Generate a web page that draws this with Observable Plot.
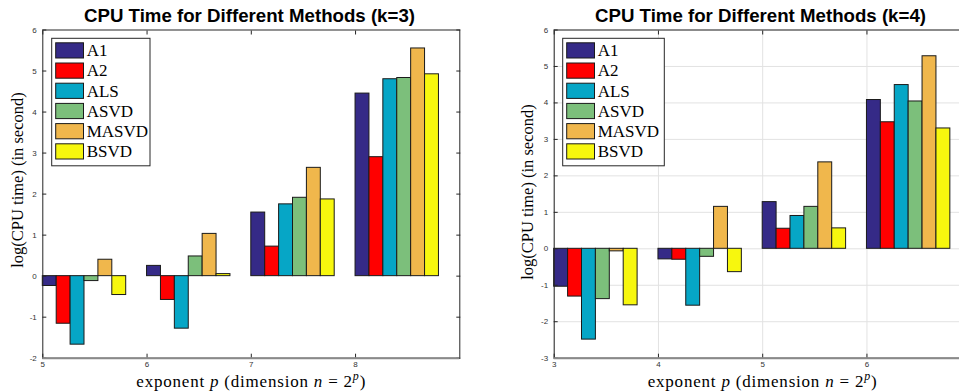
<!DOCTYPE html>
<html>
<head>
<meta charset="utf-8">
<script src="https://cdn.jsdelivr.net/npm/d3@7"></script>
<script src="https://cdn.jsdelivr.net/npm/@observablehq/plot@0.6"></script>
<style>
  html, body { margin: 0; padding: 0; background: #fff; overflow: hidden; }
  #wrap { position: relative; width: 959px; height: 392px; overflow: hidden; background: #fff; }
  #wrap > svg { position: absolute; top: 0; }
  #overlay { pointer-events: none; }
</style>
</head>
<body>
<div id="wrap"></div>
<script>
// ---------- data ----------
const methods = ["A1", "A2", "ALS", "ASVD", "MASVD", "BSVD"];
const colors  = ["#352a87", "#ff0000", "#06a6c6", "#7cbf7b", "#f0b74c", "#f7f70e"];

// k = 3
const k3Exponents = [5, 6, 7, 8];
const k3A1    = [-0.24,  0.25, 1.55, 4.45];
const k3A2    = [-1.16, -0.58, 0.72, 2.90];
const k3ALS   = [-1.67, -1.28, 1.75, 4.80];
const k3ASVD  = [-0.12,  0.48, 1.91, 4.83];
const k3MASVD = [ 0.40,  1.03, 2.64, 5.55];
const k3BSVD  = [-0.46,  0.05, 1.87, 4.92];
const k3XTicks = [5, 6, 7, 8];
const k3YTicks = [-2, -1, 0, 1, 2, 3, 4, 5, 6];

// k = 4
const k4Exponents = [3, 4, 5, 6];
const k4A1    = [-1.04, -0.29, 1.28, 4.08];
const k4A2    = [-1.31, -0.30, 0.55, 3.47];
const k4ALS   = [-2.49, -1.56, 0.90, 4.49];
const k4ASVD  = [-1.38, -0.22, 1.15, 4.04];
const k4MASVD = [-0.07,  1.15, 2.37, 5.28];
const k4BSVD  = [-1.55, -0.64, 0.56, 3.30];
const k4XTicks = [3, 4, 5, 6];
const k4YTicks = [-3, -2, -1, 0, 1, 2, 3, 4, 5, 6];

const titles = ["CPU Time for Different Methods (k=3)", "CPU Time for Different Methods (k=4)"];
const yLabelText = "log(CPU time) (in second)";

// ---------- build ----------
function tidy(exps, series) {
  const rows = [];
  series.forEach((vals, i) => vals.forEach((v, j) => rows.push({p: exps[j], i, m: methods[i], v})));
  return rows;
}

function makePanel({rows, xDomain, yDomain, xTicks, yTicks, grid, width, marginLeft, marginRight}) {
  const bw = 0.8 / methods.length;
  const fmt = d => String(d);
  const none = () => "";
  return Plot.plot({
    width, height: 392,
    marginTop: 29.5, marginBottom: 34.3, marginLeft, marginRight,
    x: {domain: xDomain},
    y: {domain: yDomain},
    color: {domain: methods, range: colors},
    style: {fontFamily: '"Liberation Sans", Arial, sans-serif', fontSize: "8px", color: "#333", background: "transparent"},
    marks: [
      grid ? Plot.gridX(xTicks, {stroke: "#e2e2e2", strokeOpacity: 1}) : null,
      grid ? Plot.gridY(yTicks, {stroke: "#e2e2e2", strokeOpacity: 1}) : null,
      Plot.rect(rows, {
        x1: d => d.p + d.i * bw,
        x2: d => d.p + (d.i + 1) * bw,
        y1: 0, y2: "v",
        fill: "m", stroke: "#1a1a1a", strokeWidth: 1
      }),
      Plot.axisX(xTicks, {anchor: "bottom", tickSize: 0, tickPadding: 3, tickFormat: fmt, label: null}),
      Plot.axisY(yTicks, {anchor: "left", tickSize: 0, tickPadding: 6, tickFormat: fmt, label: null}),
      Plot.axisX(xTicks, {anchor: "bottom", tickSize: -4, tickFormat: none, label: null, stroke: "#262626"}),
      Plot.axisX(xTicks, {anchor: "top", tickSize: -4, tickFormat: none, label: null, stroke: "#262626"}),
      Plot.axisY(yTicks, {anchor: "left", tickSize: -4, tickFormat: none, label: null, stroke: "#262626"}),
      Plot.axisY(yTicks, {anchor: "right", tickSize: -4, tickFormat: none, label: null, stroke: "#262626"}),
      Plot.frame({stroke: "#262626"}),
      Plot.ruleY([yDomain[0]], {stroke: "#8a8a8a", strokeWidth: 2})
    ]
  });
}

const wrap = document.getElementById("wrap");

const left = makePanel({
  rows: tidy(k3Exponents, [k3A1, k3A2, k3ALS, k3ASVD, k3MASVD, k3BSVD]),
  xDomain: [5, 9], yDomain: [-2, 6], xTicks: k3XTicks, yTicks: k3YTicks,
  grid: false, width: 480, marginLeft: 42.3, marginRight: 20.7
});
left.style.left = "0px";
wrap.appendChild(left);

const right = makePanel({
  rows: tidy(k4Exponents, [k4A1, k4A2, k4ALS, k4ASVD, k4MASVD, k4BSVD]),
  xDomain: [3, 7], yDomain: [-3, 6], xTicks: k4XTicks, yTicks: k4YTicks,
  grid: true, width: 491, marginLeft: 73.7, marginRight: 0.3
});
right.style.left = "480px";
wrap.appendChild(right);

// ---------- overlay: titles, axis labels, legends ----------
const ov = d3.select(wrap).append("svg")
  .attr("id", "overlay").attr("width", 959).attr("height", 392)
  .style("left", "0px");

const serif = '"Liberation Serif", "DejaVu Serif", serif';
const panels = [
  {titleX: 249.5, xLabelX: 250.8, yLabelX: 17, yLabelY: 180, legendX: 51.7},
  {titleX: 760.5, xLabelX: 762.2, yLabelX: 527, yLabelY: 192, legendX: 562.7}
];

panels.forEach((P, k) => {
  ov.append("text")
    .attr("x", P.titleX).attr("y", 21.7)
    .attr("text-anchor", "middle")
    .attr("font-family", '"Liberation Sans", Arial, sans-serif')
    .attr("font-weight", "bold").attr("font-size", 17.5).attr("fill", "#000")
    .attr("textLength", 331).attr("lengthAdjust", "spacingAndGlyphs")
    .text(titles[k]);

  // x label
  const xl = ov.append("text")
    .attr("x", P.xLabelX).attr("y", 386.5)
    .attr("text-anchor", "middle")
    .attr("font-family", serif).attr("font-size", 17).attr("fill", "#000")
    .attr("textLength", 229).attr("lengthAdjust", "spacing");
  xl.append("tspan").text("exponent ");
  xl.append("tspan").attr("font-style", "italic").text("p");
  xl.append("tspan").text(" (dimension ");
  xl.append("tspan").attr("font-style", "italic").text("n");
  xl.append("tspan").text(" = 2");
  xl.append("tspan").attr("font-style", "italic").attr("font-size", 12).attr("dy", -7).text("p");
  xl.append("tspan").attr("dy", 7).text(")");

  // y label
  ov.append("text")
    .attr("transform", `translate(${P.yLabelX},${P.yLabelY}) rotate(-90)`)
    .attr("text-anchor", "middle").attr("dominant-baseline", "central")
    .attr("font-family", serif).attr("font-size", 16.5).attr("fill", "#000")
    .text(yLabelText);

  // legend
  const boxW = k === 0 ? 98.3 : 101.6;
  const g = ov.append("g");
  g.append("rect")
    .attr("x", P.legendX).attr("y", 38.3).attr("width", boxW).attr("height", 127.5)
    .attr("fill", "#fff").attr("stroke", "#262626").attr("stroke-width", 1);
  methods.forEach((m, i) => {
    const cy = 50.4 + i * 20.2;
    g.append("rect")
      .attr("x", P.legendX + 4).attr("y", cy - 7.6).attr("width", 27.8).attr("height", 15.2)
      .attr("fill", colors[i]).attr("stroke", "#1a1a1a").attr("stroke-width", 1);
    g.append("text")
      .attr("x", P.legendX + 35).attr("y", cy + 5.8)
      .attr("font-family", serif).attr("font-size", 17).attr("fill", "#000")
      .text(m);
  });
});
</script>
</body>
</html>
